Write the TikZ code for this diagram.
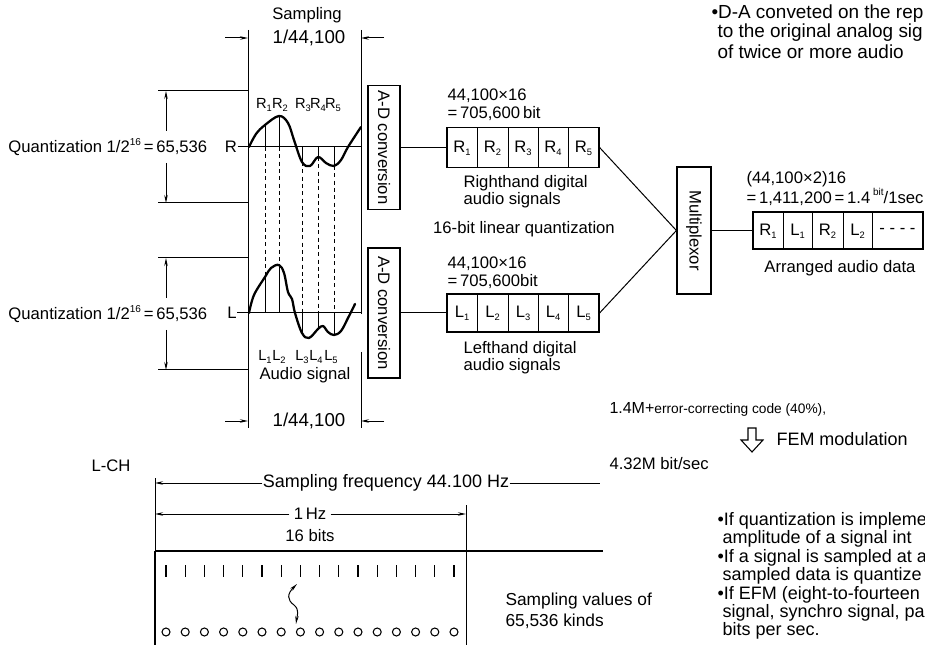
\documentclass[tikz,border=0pt]{standalone}
\usepackage{fontspec}
\setmainfont{Liberation Sans}
\usetikzlibrary{arrows.meta}
\newcommand\lsub[1]{\raisebox{-0.35ex}{\fontsize{7}{7}\selectfont #1}}
\newcommand\hsup[1]{\raisebox{0.85ex}{\fontsize{7.5}{7.5}\selectfont #1}}
\begin{document}
\begin{tikzpicture}[x=0.75pt,y=-0.75pt, line width=0.75pt,
  every node/.style={inner sep=0pt, font=\fontsize{12.5}{14}\selectfont},
  big/.style={font=\fontsize{14}{16}\selectfont},
  lbl/.style={font=\fontsize{11}{12}\selectfont},
  note/.style={font=\fontsize{14.2}{16}\selectfont, anchor=west},
  bnote/.style={font=\fontsize{13.5}{15}\selectfont, anchor=west},
  dim/.style={-{Stealth[length=6pt,width=2.6pt]}},
  dimboth/.style={{Stealth[length=6pt,width=2.6pt]}-{Stealth[length=6pt,width=2.6pt]}},
  box/.style={draw, line width=0.9pt},
  wave/.style={line width=1.7pt, line join=round, line cap=round},
  samp/.style={line width=0.5pt},
  dsh/.style={line width=0.5pt, dash pattern=on 3pt off 2.5pt},
  thick line/.style={line width=1.4pt}]
\useasboundingbox (0,0) rectangle (925,645);
\clip (0,0) rectangle (925,645);

% ---------- sampling frame ----------
\node (samptitle) at (307,15) {Sampling};
\node[big] (pertop) at (309,38) {1/44,100};
\node[big] (perbot) at (309,421) {1/44,100};
\coordinate (fl) at (248,30);
\coordinate (fr) at (361,30);
\draw (fl) -- (248,428);
\draw (fr) -- (361,314);
\draw (361,352) -- (361,428);
\draw[dim] (225,38) -- (248,38);
\draw[dim] (384,38) -- (361,38);
\draw[dim] (225,421) -- (248,421);
\draw[dim] (384,421) -- (361,421);

% ---------- R channel ----------
\node[anchor=west] (qR) at (8,147) {Quantization 1/2\hsup{16}\,=\,65,536};
\node (Rlab) at (231,147) {R};
\draw (Rlab.east) -- (361,147);
\draw (158,91) -- (248,91);
\draw (158,203) -- (248,203);
\draw[dim] (166,131) -- (166,91);
\draw[dim] (166,163) -- (166,203);
\draw[wave] plot[smooth, tension=0.6] coordinates {(249,147) (256,134) (265,125) (279,116) (288,123) (294,140) (302,162) (310,166) (318,157) (326,163) (334,166) (341,160) (348,147) (361,127)};
\draw[samp] (265,125) -- (265,147);
\draw[samp] (279,116) -- (279,147);
\draw[samp] (302,147) -- (302,162);
\draw[samp] (318,147) -- (318,157);
\draw[samp] (334,147) -- (334,166);
\node[lbl] (R1) at (264,105) {R\lsub{1}};
\node[lbl] (R2) at (280,105) {R\lsub{2}};
\node[lbl] (R3) at (303,105) {R\lsub{3}};
\node[lbl] (R4) at (318,105) {R\lsub{4}};
\node[lbl] (R5) at (333,105) {R\lsub{5}};

% dashed connections
\draw[dsh] (265,147) -- (265,277);
\draw[dsh] (279,147) -- (279,265);
\draw[dsh] (302,162) -- (302,313);
\draw[dsh] (318,157) -- (318,313);
\draw[dsh] (334,166) -- (334,313);

% ---------- L channel ----------
\node[anchor=west] (qL) at (8,314) {Quantization 1/2\hsup{16}\,=\,65,536};
\node (Llab) at (232,313) {L};
\draw (Llab.east) -- (361,313);
\draw (158,258) -- (248,258);
\draw (158,370) -- (248,370);
\draw[dim] (166,298) -- (166,258);
\draw[dim] (166,330) -- (166,370);
\draw[wave] plot[smooth, tension=0.6] coordinates {(249,313) (254,295) (265,277) (271,268) (279,265) (284,273) (288,292) (292,299) (295,313) (302,333) (309,338) (318,329) (323,326) (328,332) (334,335) (341,331) (348,318) (355,304)};
\draw[samp] (265,277) -- (265,313);
\draw[samp] (279,265) -- (279,313);
\draw[samp] (302,313) -- (302,333);
\draw[samp] (318,313) -- (318,329);
\draw[samp] (334,313) -- (334,335);
\node[lbl] (L1) at (265,357) {L\lsub{1}};
\node[lbl] (L2) at (279,357) {L\lsub{2}};
\node[lbl] (L3) at (302,357) {L\lsub{3}};
\node[lbl] (L4) at (316,357) {L\lsub{4}};
\node[lbl] (L5) at (331,357) {L\lsub{5}};
\node (audio) at (305,375) {Audio signal};

% ---------- A-D conversion ----------
\node[box, minimum width=24pt, minimum height=93pt] (adR) at (384,147.5) {};
\node[rotate=-90] (adRt) at (adR) {A-D conversion};
\node[box, minimum width=24pt, minimum height=97.5pt] (adL) at (384,313) {};
\node[rotate=-90] (adLt) at (adL) {A-D conversion};

% ---------- registers ----------
\node[anchor=north west, align=left, font=\fontsize{12.5}{13.5}\selectfont] (rk) at (447,88) {44,100×16\\=\,705,600\,bit};
\node[box, minimum width=114pt, minimum height=30pt] (regR) at (523,147.5) {};
\foreach \x in {477,508,538,568} \draw (\x,127.5) -- (\x,167.5);
\foreach \i/\x in {1/462,2/492.5,3/523,4/553,5/583.5} \node (rc\i) at (\x,148) {R\lsub{\i}};
\node[anchor=north west, align=left, font=\fontsize{12.5}{11.5}\selectfont] (rh) at (463,175) {Righthand digital\\audio signals};
\node (lin) at (524,229) {16-bit linear quantization};

\node[anchor=north west, align=left, font=\fontsize{12.5}{13.5}\selectfont] (lk) at (447,256) {44,100×16\\=\,705,600bit};
\node[box, minimum width=114pt, minimum height=28.5pt] (regL) at (523,313) {};
\foreach \x in {477,508,538,568} \draw (\x,294) -- (\x,332);
\foreach \i/\x in {1/462,2/492.5,3/523,4/553,5/583.5} \node (lc\i) at (\x,313.5) {L\lsub{\i}};
\node[anchor=north west, align=left, font=\fontsize{12.5}{11.5}\selectfont] (lh) at (463,341) {Lefthand digital\\audio signals};

\draw (adR.east) -- (regR.west);
\draw (adL.east) -- (regL.west);

% ---------- multiplexor ----------
\node[box, minimum width=25.5pt, minimum height=95.25pt] (mux) at (694,230.5) {};
\node[rotate=-90] (muxt) at (mux) {Multiplexor};
\draw (regR.east) -- (mux.west);
\draw (regL.east) -- (mux.west);

\node[anchor=north west, align=left, font=\fontsize{12.5}{11}\selectfont] (ar) at (746,171) {(44,100×2)16\\=\,1,411,200\,=\,1.4\,\hsup{bit}/1sec};
\node[box, minimum width=127.5pt, minimum height=27.75pt] (arr) at (838,230.5) {};
\foreach \x in {783,812,843,872} \draw (\x,212) -- (\x,249);
\node (a1) at (768,231) {R\lsub{1}};
\node (a2) at (797.5,231) {L\lsub{1}};
\node (a3) at (827.5,231) {R\lsub{2}};
\node (a4) at (857.5,231) {L\lsub{2}};
\node (a5) at (897.5,231) {- - - -};
\node (arrt) at (840,268) {Arranged audio data};
\draw (mux.east) -- (arr.west);

% ---------- notes ----------
\node[note] (n1) at (711,14) {•D-A conveted on the rep};
\node[note] (n2) at (717,33) {to the original analog sig};
\node[note] (n3) at (717,52) {of twice or more audio};

\node[anchor=west] (ec) at (609,409) {{\fontsize{12}{13}\selectfont 1.4M+}{\fontsize{10.3}{12}\selectfont error-correcting code (40\%),}};
\draw[line width=0.8pt] (748,428) -- (756,428) -- (756,440) -- (763,440) -- (752,452) -- (741,440) -- (748,440) -- cycle;
\node[anchor=west, font=\fontsize{13.5}{15}\selectfont] (fem) at (776,439) {FEM modulation};
\node[anchor=west] (rate) at (609,464) {4.32M bit/sec};

\node[bnote] (b1) at (717,521) {•If quantization is impleme};
\node[bnote] (b2) at (722,539) {amplitude of a signal int};
\node[bnote] (b3) at (717,558) {•If a signal is sampled at a};
\node[bnote] (b4) at (722,576) {sampled data is quantize};
\node[bnote] (b5) at (717,595) {•If EFM (eight-to-fourteen};
\node[bnote] (b6) at (722,613) {signal, synchro signal, par};
\node[bnote] (b7) at (722,631) {bits per sec.};

% ---------- bottom: L-CH bit frame ----------
\node (lch) at (111,466) {L-CH};
\draw (155,478) -- (155,551);
\draw[thick line] (155,551) -- (155,645);
\draw[thick line] (155,551) -- (603,551);
\draw (466,505) -- (466,645);
\node[font=\fontsize{13.5}{15}\selectfont] (sf) at (386,483) {Sampling frequency 44.100 Hz};
\draw[dim] (sf.west) -- (155,483);
\draw (sf.east) -- (600,483);
\node (hz) at (310,514) {1\,Hz};
\draw[dim] ([xshift=-3pt]hz.west) -- (155,514);
\draw[dim] ([xshift=3pt]hz.east) -- (466,514);
\node (bits) at (310,536) {16 bits};
\foreach \i in {0,...,15} {
  \draw[line width=0.9pt] ({166+19.2*\i},565) -- ({166+19.2*\i},577);
  \draw[line width=0.8pt] ({166+19.2*\i},632) circle[radius=4];
}
\draw[dimboth] (297,584) .. controls (287,594) and (287,600) .. (294,605) .. controls (300,610) and (297,616) .. (296,624);
\node[anchor=west, font=\fontsize{13}{15}\selectfont] (sv1) at (505,601) {Sampling values of};
\node[anchor=west, font=\fontsize{13}{15}\selectfont] (sv2) at (505,621) {65,536 kinds};
\end{tikzpicture}
\end{document}
